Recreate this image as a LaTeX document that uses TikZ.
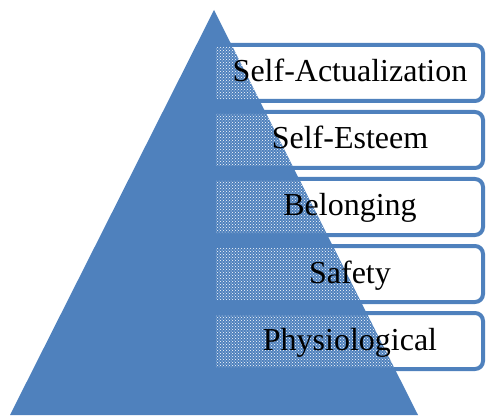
\documentclass[tikz,border=0pt]{standalone}
\usepackage{fontspec}
\setmainfont{Liberation Serif}
\usetikzlibrary{patterns}
\definecolor{pyrblue}{RGB}{79,129,189}

\begin{document}
\begin{tikzpicture}[x = 1pt, y = 1pt,
    levelbox/.style = {draw = pyrblue, line width = 4pt, rounded corners = 8pt, fill = white,
                       minimum width = 266pt, minimum height = 56pt, inner sep = 0pt},
    leveltext/.style = {font = \fontsize{32}{36}\selectfont, text = black,
                        text height = 24pt, text depth = 6pt, inner sep = 0pt}]
    \useasboundingbox (0,0) rectangle (486,415);

        % boxes behind the pyramid
        \node[levelbox] (actual) at (350,342) {};
        \node[levelbox] (esteem) at (350,275) {};
        \node[levelbox] (belong) at (350,208) {};
        \node[levelbox] (safety) at (350,141) {};
        \node[levelbox] (physio) at (350,74) {};

        \coordinate (apex) at (214,405);
        \coordinate (baseL) at (10,0);
        \coordinate (baseR) at (418,0);
        \fill[pyrblue] (apex) -- (baseL) -- (baseR) -- cycle;

        % texture where the boxes lie under the pyramid
        \begin{scope}
            \clip (apex) -- (baseL) -- (baseR) -- cycle;
            \fill[pattern = crosshatch dots, pattern color = white]
                ([shift = {(1,4)}]actual.south west) rectangle ([shift = {(-2,-4)}]actual.north east)
                ([shift = {(1,4)}]esteem.south west) rectangle ([shift = {(-2,-4)}]esteem.north east)
                ([shift = {(1,4)}]belong.south west) rectangle ([shift = {(-2,-4)}]belong.north east)
                ([shift = {(1,4)}]safety.south west) rectangle ([shift = {(-2,-4)}]safety.north east)
                ([shift = {(1,4)}]physio.south west) rectangle ([shift = {(-2,-4)}]physio.north east);
        \end{scope}

        \node[leveltext] (actualT) at (actual) {Self-Actualization};
        \node[leveltext] (esteemT) at (esteem) {Self-Esteem};
        \node[leveltext] (belongT) at (belong) {Belonging};
        \node[leveltext] (safetyT) at (safety) {Safety};
        \node[leveltext] (physioT) at (physio) {Physiological};
\end{tikzpicture}
\end{document}
